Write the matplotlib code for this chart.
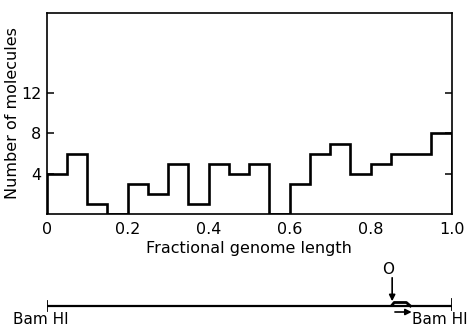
import matplotlib
matplotlib.use("Agg")
import matplotlib.pyplot as plt
import numpy as np

# Data
bin_edges = [0.0, 0.05, 0.10, 0.15, 0.20, 0.25, 0.30, 0.35, 0.40, 0.45, 0.50,
             0.55, 0.60, 0.65, 0.70, 0.75, 0.80, 0.85, 0.90, 0.95, 1.0]
counts = [4, 6, 1, 0, 3, 2, 5, 1, 5, 4, 5, 0, 3, 6, 7, 4, 5, 6, 6, 8]
x_ticks = [0, 0.2, 0.4, 0.6, 0.8, 1.0]
x_tick_labels = ["0", "0.2", "0.4", "0.6", "0.8", "1.0"]
y_ticks = [4, 8, 12]
y_tick_labels = ["4", "8", "12"]
origin_pos = 0.848
map_labels = ["Bam HI", "Bam HI"]

plt.rcParams['font.family'] = ['DejaVu Sans']
W, H = 471, 326
fig = plt.figure(figsize=(W / 100, H / 100), dpi=100)

L, R = 46.7 / W, 451.7 / W
ax = fig.add_axes([L, 1 - 214 / H, R - L, (214 - 12.7) / H])
ax.stairs(counts, bin_edges, color='black', lw=1.9, baseline=0)
ax.set_xlim(0, 1.0)
ax.set_ylim(0, 20)
ax.set_xticks(x_ticks)
ax.set_xticklabels(x_tick_labels, fontsize=11.5)
ax.set_yticks(y_ticks)
ax.set_yticklabels(y_tick_labels, fontsize=11.5)
ax.tick_params(axis='x', length=0, pad=6)
ax.tick_params(axis='y', direction='in', length=5, width=1.1, left=True, right=True, pad=4)
for s in ax.spines.values():
    s.set_linewidth(1.2)
ax.set_xlabel("Fractional genome length", fontsize=11.5, labelpad=3)
ax.set_ylabel("Number of molecules", fontsize=11.5)
ax.yaxis.set_label_coords(-0.066, 0.5)

# Genome map below
ax2 = fig.add_axes([L, 0, R - L, 71 / H])
ax2.set_xlim(0, 1.0)
ax2.set_ylim(326, 255)
ax2.axis('off')
ax2.plot([0, 1], [306, 306], color='black', lw=1.6, solid_capstyle='butt')
ax2.plot([0, 0], [300.5, 311], color='black', lw=1.3)
ax2.plot([1, 1], [299, 310], color='black', lw=1.3)
ax2.text(origin_pos - 0.005, 270, "O", ha='center', va='center', fontsize=11)
ax2.annotate("", xy=(origin_pos + 0.005, 304), xytext=(origin_pos + 0.005, 275),
             arrowprops=dict(arrowstyle='-|>', color='black', lw=1.2, mutation_scale=9))
ax2.plot([origin_pos + 0.005, origin_pos + 0.01, origin_pos + 0.04, origin_pos + 0.05],
         [305, 302.5, 302.5, 306], color='black', lw=2.0)
ax2.annotate("", xy=(origin_pos + 0.06, 312), xytext=(origin_pos + 0.005, 312),
             arrowprops=dict(arrowstyle='-|>', color='black', lw=1.2, mutation_scale=9))
ax2.text(-0.083, 320, map_labels[0], ha='left', va='center', fontsize=11)
ax2.text(1.04, 320, map_labels[1], ha='right', va='center', fontsize=11)

fig.savefig("out.png", dpi=100)
